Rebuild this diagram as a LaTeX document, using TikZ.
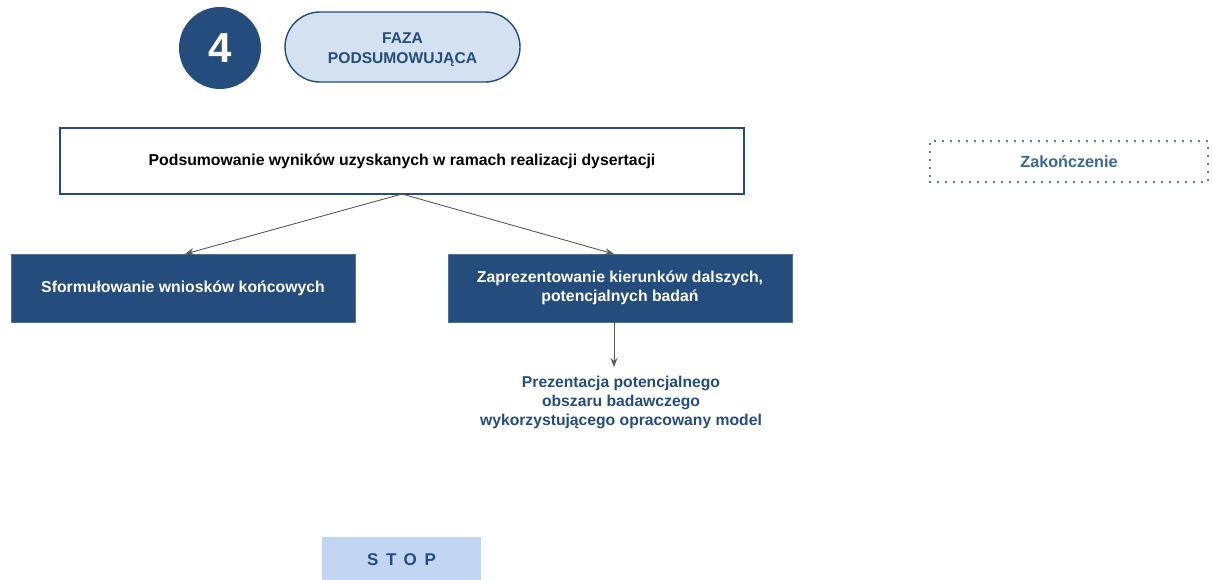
\documentclass[tikz,border=0pt]{standalone}
\usepackage{fontspec}
\setmainfont{Liberation Sans}
\newfontfamily\spacedfont{Liberation Sans}[LetterSpace=45]
\usetikzlibrary{arrows.meta}
\definecolor{navy}{HTML}{244C7C}
\definecolor{paleblue}{HTML}{D3E1F1}
\definecolor{stopblue}{HTML}{C2D6F4}
\definecolor{endblue}{HTML}{3A6890}
\definecolor{dotblue}{HTML}{2E4F7A}
\definecolor{linegray}{HTML}{5A5A5A}
\tikzset{
  darkbox/.style={draw=navy!80, line width=0.8pt, fill=navy, text=white,
    font=\bfseries\fontsize{15.8}{18.5}\selectfont, align=center, inner sep=0pt},
  link/.style={draw=linegray, line width=0.9pt, -{Stealth[length=9pt,width=7pt]}},
}
\begin{document}
\begin{tikzpicture}[x=1pt,y=-1pt]
  \useasboundingbox (0,0) rectangle (1212,579);

  % phase badge
  \node[circle, fill=navy, minimum size=82pt, inner sep=0pt, text=white,
        font=\bfseries\fontsize{42}{46}\selectfont] (num) at (220,48) {4};
  \node[draw=navy, line width=1.4pt, fill=paleblue, rounded corners=35pt,
        minimum width=235pt, minimum height=70pt, inner sep=0pt] (phase) at (402.5,47) {};
  \node[align=center, inner sep=0pt, text=navy,
        font=\bfseries\fontsize{15.6}{20}\selectfont] (phasetext) at (402.5,49.5)
        {FAZA\\PODSUMOWUJĄCA};

  % summary box
  \node[draw=navy, line width=1.4pt, fill=white, minimum width=684pt, minimum height=66pt,
        inner sep=0pt, font=\bfseries\fontsize{15.8}{18}\selectfont] (summary) at (402,161)
        {Podsumowanie wyników uzyskanych w ramach realizacji dysertacji};

  % side label
  \node[draw=dotblue, line width=2.2pt, dash pattern=on 0pt off 8pt, line cap=round,
        minimum width=278pt, minimum height=41pt, inner sep=0pt, text=endblue,
        font=\bfseries\fontsize{16.2}{19}\selectfont] (end) at (1069,161.5) {Zakończenie};

  % conclusions
  \node[darkbox, minimum width=344pt, minimum height=68pt] (concl) at (183,288)
        {Sformułowanie wniosków końcowych};
  \node[darkbox, minimum width=344pt, minimum height=68pt] (future) at (620,288)
        {Zaprezentowanie kierunków dalszych,\\potencjalnych badań};

  \node[text=navy, align=center, inner sep=0pt,
        font=\bfseries\fontsize{15.7}{19}\selectfont] (area) at (621,402)
        {Prezentacja potencjalnego\\obszaru badawczego\\wykorzystującego opracowany model};

  \coordinate (split) at (402,194);
  \coordinate (futuretop) at (614,254);
  \coordinate (futurebot) at (614,322);
  \coordinate (areatop) at (614,367);

  \draw[link] (split) -- (185,254);
  \draw[link] (split) -- (futuretop);
  \draw[link] (futurebot) -- (areatop);

  % stop marker
  \node[fill=stopblue, minimum width=159pt, minimum height=45pt, inner sep=0pt,
        text=navy, font=\spacedfont\bfseries\fontsize{17}{20}\selectfont] (stop) at (401.5,559.5) {STOP};
\end{tikzpicture}
\end{document}
